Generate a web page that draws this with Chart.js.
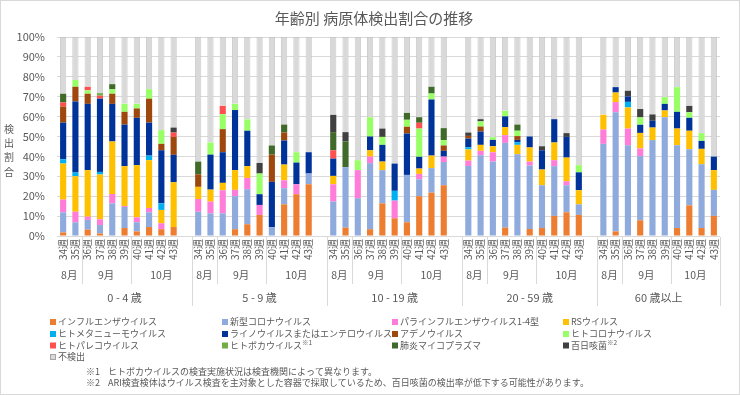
<!DOCTYPE html>
<html><head><meta charset="utf-8">
<script src="https://cdn.jsdelivr.net/npm/chart.js@4/dist/chart.umd.min.js"></script>
<style>html,body{margin:0;padding:0;background:#fff}#wrap{position:relative;width:740px;height:395px}</style>
</head><body><div id="wrap"><canvas id="c"></canvas></div>
<script>
const FONT = '"Noto Sans CJK JP", "Noto Sans", sans-serif';
const TXT = '#595959';

const weeks = ['34週','35週','36週','37週','38週','39週','40週','41週','42週','43週'];
const weekMonths = ['8月','8月','9月','9月','9月','9月','10月','10月','10月','10月'];
const ageGroups = ['0 - 4 歳','5 - 9 歳','10 - 19 歳','20 - 59 歳','60 歳以上'];
const yTicks = [0,10,20,30,40,50,60,70,80,90,100];

// values per series: group1 weeks 34-43, group2 ..., group5
const influenza = [1.8,0,3.2,1.3,0,4.0,2.3,4.5,3.4,4.5, 0,0,0,3.4,5.9,10.6,0,15.9,21.0,26.0, 0,4.2,0,3.4,16.4,8.9,6.9,20.0,21.8,25.5, 0,0,0,4.2,0,3.5,4.0,10.1,11.9,10.6, 0,2.3,0,7.9,0,0,4.0,15.4,4.0,10.1];
const covid = [10.1,6.9,4.9,4.2,16.4,10.6,4.6,7.4,0,0, 12.2,11.4,11.4,16.6,17.6,0,4.4,8.1,0,5.4, 17.3,30.4,19.0,33.2,16.7,0,23.8,8.5,12.3,11.7, 35.2,40.6,37.4,42.6,41.1,31.9,21.5,25.0,13.6,5.3, 46.3,59.9,45.6,32.2,48.2,59.7,41.6,28.2,32.1,13.1];
const parainfluenza = [6.4,5.3,1.6,2.9,4.7,0.5,2.5,2.2,3.0,0, 6.4,5.9,11.6,3.2,5.7,5.0,0,4.0,5.0,0, 8.7,0,14.1,3.3,0,8.9,0,2.7,0,2.7, 2.7,2.2,4.7,3.9,0,2.0,0,3.0,2.0,0, 7.2,5.1,8.4,3.9,0,0,0,0,0,0];
const rsv = [18.1,17.8,23.4,22.5,26.4,20.0,26.2,24.0,6.7,22.5, 6.1,6.0,3.7,9.9,5.9,0,0,7.9,0,0, 4.2,0,0,3.2,4.3,0,0,2.7,6.3,0, 5.6,3.0,3.0,4.0,4.7,7.1,7.9,8.9,11.9,7.1, 7.4,4.8,10.6,7.8,6.3,3.4,8.4,9.3,7.7,9.9];
const hmpv = [2.2,1.9,0,1.3,0,0,0,2.3,3.3,0, 0,0,0,0,0,0,0,0,0,0, 0,0,0,0,0,4.9,0,0,0,0, 1.1,0,0,0,1.3,0,0,0,0,0, 0,0,2.8,0,0,0,0,0,0,0];
const rhinoEntero = [18.4,35.7,33.3,36.8,18.9,20.9,23.8,16.6,26.7,13.8, 0,17.6,15.4,30.2,17.8,5.4,22.8,12.1,10.9,10.7, 8.7,0,0,6.9,8.4,13.7,20.8,5.9,28.2,2.9, 4.4,6.7,3.2,5.4,1.2,5.5,9.7,11.7,10.4,9.0, 0,2.7,2.7,4.1,3.4,3.3,8.4,6.5,4.0,6.8];
const adeno = [8.1,7.4,5.1,0,5.1,6.4,4.7,12.0,3.2,9.0, 6.3,0,11.6,0,0,0,13.7,4.0,0,0, 0,0,0,0,0,0,3.4,0,0,2.7, 1.3,2.5,0,0,1.9,0,0,0,0,0, 0,0,0,0,0,0,0,0,0,0];
const humanCorona = [0,3.4,1.7,0,2.2,4.0,2.3,4.8,6.9,0, 0,6.1,7.5,3.1,5.7,10.4,0,0,5.2,0, 0,0,5.0,9.7,4.0,0,3.5,14.2,3.0,2.7, 0,2.6,1.4,2.8,2.7,0,0,0,0,3.6, 0,0,0,3.7,0,3.4,12.4,2.8,3.9,0];
const parecho = [2.0,0,1.8,1.5,0,0,0,0,0,2.2, 0,0,4.2,0,0,0,0,0,0,0, 4.2,0,0,0,0,0,0,2.9,0,0, 0,0,0,0,0,0,0,0,0,0, 0,0,0,0,0,0,0,0,0,0];
const boca = [0,0,0,1.3,0,0,0,0,0,0, 0,0,0,0,0,0,0,0,0,0, 0,0,0,0,0,0,0,0,0,0, 0,0,0,0,0,0,0,0,0,0, 0,0,0,0,0,0,0,0,0,0];
const mycoplasma = [4.4,0,0,0,2.6,0,0,0,0,0, 6.4,0,0,0,0,0,4.6,4.0,0,0, 9.1,12.9,0,0,0,0,3.5,2.8,3.4,6.0, 0,0,0,0,3.1,0,0,0,0,0, 0,0,0,0,0,0,0,0,0,0];
const pertussis = [0,0,0,0,0,0,0,0,0,2.5, 0,0,0,0,0,5.3,0,0,0,0, 8.7,4.7,0,0,4.2,0,0,0,0,0, 1.7,1.1,0,0,0,0,2.0,0,1.9,0, 0,0,2.9,4.2,3.2,0,0,3.2,0,0];
const notDetected = [28.5,21.6,25.0,28.2,23.7,33.6,33.6,26.2,46.8,45.5, 62.6,53.0,34.6,33.6,41.4,63.3,54.5,44.0,57.9,57.9, 39.1,47.8,61.9,40.3,46.0,63.6,38.1,40.3,25.0,45.8, 48.0,41.3,50.3,37.1,44.0,50.0,54.9,41.3,48.3,64.4, 39.1,25.2,27.0,36.2,38.9,30.2,25.2,34.6,48.3,60.1];

const seriesDefs = [
  ['インフルエンザウイルス', influenza, '#ED7D31'],
  ['新型コロナウイルス', covid, '#8FAADC'],
  ['パラインフルエンザウイルス1-4型', parainfluenza, '#FF7CD9'],
  ['RSウイルス', rsv, '#FFC000'],
  ['ヒトメタニューモウイルス', hmpv, '#00B0F0'],
  ['ライノウイルスまたはエンテロウイルス', rhinoEntero, '#003399'],
  ['アデノウイルス', adeno, '#9E480E'],
  ['ヒトコロナウイルス', humanCorona, '#99FF66'],
  ['ヒトパレコウイルス', parecho, '#FF5050'],
  ['ヒトボカウイルス※1', boca, '#70AD47'],
  ['肺炎マイコプラズマ', mycoplasma, '#406A2A'],
  ['百日咳菌※2', pertussis, '#404040'],
  ['不検出', notDetected, '#D9D9D9']
];

// build category slots (one empty slot after each group except the last)
const labels = [], meta = [], slotIndex = [];
ageGroups.forEach((g, gi) => {
  weeks.forEach((w, wi) => {
    slotIndex.push(labels.length);
    labels.push(w); meta.push({g: gi, m: weekMonths[wi]});
  });
  if (gi < ageGroups.length - 1) {
    labels.push(''); meta.push({g: gi, m: weekMonths[weekMonths.length - 1]});
  }
});
function expand(arr) {
  const out = new Array(labels.length).fill(null);
  arr.forEach((v, i) => { out[slotIndex[i]] = v; });
  return out;
}

const datasets = seriesDefs.map(([name, arr, color]) => ({
  label: name,
  data: expand(arr),
  backgroundColor: color,
  borderColor: name === '不検出' ? '#BFBFBF' : color,
  borderWidth: name === '不検出' ? 0.8 : 0,
  categoryPercentage: 1.0,
  barPercentage: 0.5
}));

const extras = {
  id: 'extras',
  afterDraw(chart) {
    const ctx = chart.ctx;
    const xs = chart.scales.x;
    const area = chart.chartArea;
    const half = (xs.getPixelForValue(1) - xs.getPixelForValue(0)) / 2;
    ctx.save();
    // frame
    ctx.strokeStyle = '#D9D9D9'; ctx.lineWidth = 1;
    ctx.strokeRect(0.5, 0.5, 739, 394);
    // title
    ctx.fillStyle = TXT;
    ctx.font = '15px ' + FONT;
    ctx.textAlign = 'center'; ctx.textBaseline = 'middle';
    ctx.fillText('年齢別 病原体検出割合の推移', 374, 18);
    // y title stacked
    ctx.font = '10px ' + FONT;
    ['検','出','割','合'].forEach((ch, i) => ctx.fillText(ch, 9, 129 + i * 14.3));
    // week labels
    ctx.font = '10px ' + FONT;
    labels.forEach((lab, i) => {
      if (!lab) return;
      const px = xs.getPixelForValue(i);
      ctx.save();
      ctx.translate(px, area.bottom + 3);
      ctx.rotate(-Math.PI / 2);
      ctx.textAlign = 'right'; ctx.textBaseline = 'middle';
      ctx.fillText(lab, 0, 0);
      ctx.restore();
    });
    // month and group runs
    ctx.strokeStyle = '#D9D9D9';
    let start = 0;
    ctx.font = '10.5px ' + FONT;
    ctx.textAlign = 'center'; ctx.textBaseline = 'middle';
    for (let i = 0; i < labels.length; i++) {
      const end = (i === labels.length - 1) || meta[i + 1].g !== meta[i].g || meta[i + 1].m !== meta[i].m;
      if (end) {
        const c = (xs.getPixelForValue(start) + xs.getPixelForValue(i)) / 2;
        ctx.fillText(meta[i].m, c, 275);
        const groupEnd = (i === labels.length - 1) || meta[i + 1].g !== meta[i].g;
        const lx = Math.round(xs.getPixelForValue(i) + half) + 0.5;
        ctx.beginPath(); ctx.moveTo(lx, area.bottom + 1); ctx.lineTo(lx, groupEnd ? 306 : 284); ctx.stroke();
        start = i + 1;
      }
    }
    start = 0;
    ctx.font = '11px ' + FONT;
    for (let i = 0; i < labels.length; i++) {
      const end = (i === labels.length - 1) || meta[i + 1].g !== meta[i].g;
      if (end) {
        const c = (xs.getPixelForValue(start) + xs.getPixelForValue(i)) / 2;
        ctx.fillText(ageGroups[meta[i].g], c, 298);
        start = i + 1;
      }
    }
    // legend
    const colX = [50, 222, 392, 563];
    const rowY = [322, 334, 345.5, 357];
    ctx.textAlign = 'left'; ctx.textBaseline = 'middle';
    chart.data.datasets.forEach((ds, i) => {
      const x = colX[i % 4], y = rowY[Math.floor(i / 4)];
      ctx.fillStyle = ds.backgroundColor;
      ctx.fillRect(x, y - 3, 6, 6);
      if (ds.label === '不検出') { ctx.strokeStyle = '#A6A6A6'; ctx.strokeRect(x + 0.5, y - 2.5, 5, 5); }
      ctx.fillStyle = TXT;
      const parts = ds.label.split('※');
      ctx.font = '9px ' + FONT;
      ctx.fillText(parts[0], x + 8, y);
      if (parts.length > 1) {
        const w = ctx.measureText(parts[0]).width;
        ctx.font = '6.5px ' + FONT;
        ctx.fillText('※' + parts[1], x + 8 + w, y - 3);
      }
    });
    // footnotes
    ctx.font = '9px ' + FONT;
    ctx.fillStyle = TXT;
    ctx.fillText('※1', 86, 372);
    ctx.fillText('ヒトボカウイルスの検査実施状況は検査機関によって異なります。', 108, 372);
    ctx.fillText('※2', 86, 382.5);
    ctx.fillText('ARI検査検体はウイルス検査を主対象とした容器で採取しているため、百日咳菌の検出率が低下する可能性があります。', 108, 382.5);
    ctx.restore();
  }
};

new Chart(document.getElementById('c'), {
  type: 'bar',
  data: { labels, datasets },
  options: {
    responsive: true, maintainAspectRatio: false, animation: false,
    layout: { padding: { top: 37, right: 20, bottom: 0, left: 0 } },
    plugins: { legend: { display: false }, tooltip: { enabled: false }, title: { display: false } },
    scales: {
      x: {
        stacked: true,
        grid: { display: false, drawTicks: false },
        border: { display: false },
        ticks: { display: false },
        afterFit(s) { s.height = 395 - 236; }
      },
      y: {
        stacked: true, min: 0, max: 100,
        afterBuildTicks(s) { s.ticks = yTicks.map(v => ({ value: v })); },
        grid: { color: '#D9D9D9', drawTicks: false },
        border: { display: false },
        ticks: { padding: 12, color: TXT, font: { size: 11, family: FONT }, callback: v => v + '%' },
        afterFit(s) { s.width = 57; }
      }
    }
  },
  plugins: [extras]
});
</script>
</body></html>
